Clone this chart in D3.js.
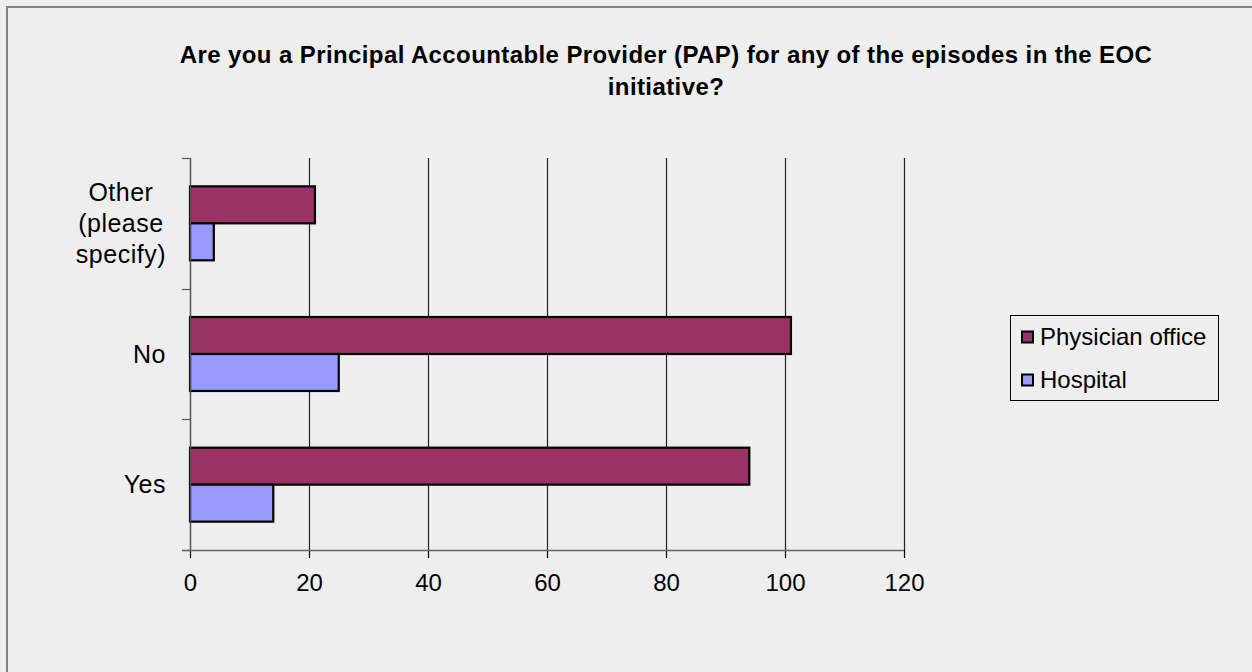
<!DOCTYPE html>
<html><head><meta charset="utf-8">
<script src="https://cdn.jsdelivr.net/npm/d3@7"></script>
<style>
html,body{margin:0;padding:0;background:#EEEEEE;}
svg{display:block;font-family:"Liberation Sans",Arial,sans-serif;}
</style></head>
<body>
<svg id="c" width="1252" height="672"></svg>
<script>
const categories = ["Yes", "No", "Other (please specify)"];
const categoryLines = [["Yes"], ["No"], ["Other", "(please", "specify)"]];
const seriesNames = ["Physician office", "Hospital"];
const physicianOffice = [94, 101, 21];
const hospital = [14, 25, 4];
const xTicks = [0, 20, 40, 60, 80, 100, 120];
const colors = ["#993366", "#9999FF"];
const titleLines = ["Are you a Principal Accountable Provider (PAP) for any of the episodes in the EOC", "initiative?"];

const svg = d3.select("#c");
svg.append("rect").attr("x",0).attr("y",0).attr("width",1252).attr("height",672).attr("fill","#EEEEEE");
// outer chart border (left/top visible)
svg.append("rect").attr("x",7).attr("y",7).attr("width",1260).attr("height",680)
  .attr("fill","none").attr("stroke","#808080").attr("stroke-width",2);

const L=190, R=904, T=158, B=550;
const x = d3.scaleLinear().domain([0,120]).range([L,R]);
const y = d3.scaleBand().domain(categories.slice().reverse()).range([T,B]).paddingInner(0.434).paddingOuter(0.217);
const ySub = d3.scaleBand().domain(seriesNames).range([0,y.bandwidth()]);

// title
const title = svg.append("text").attr("text-anchor","middle").attr("font-size",24).attr("font-weight","bold")
  .attr("letter-spacing","0.4").attr("fill","#000");
titleLines.forEach((t,i)=>title.append("tspan").attr("x",666).attr("y",63+i*32).text(t));

// gridlines
svg.append("g").selectAll("line").data(xTicks.slice(1)).join("line")
  .attr("x1",d=>x(d)+0.5).attr("x2",d=>x(d)+0.5).attr("y1",T).attr("y2",B)
  .attr("stroke","#222").attr("stroke-width",1.2);

// bars
const data = [physicianOffice, hospital];
const g = svg.append("g");
categories.forEach((c,ci)=>{
  seriesNames.forEach((s,si)=>{
    g.append("rect")
      .attr("x",x(0)).attr("y",y(c)+ySub(s))
      .attr("width",x(data[si][ci])-x(0)).attr("height",ySub.bandwidth())
      .attr("fill",colors[si]).attr("stroke","#000").attr("stroke-width",2.2);
  });
});

// y axis
const yAxisG = svg.append("g");
yAxisG.append("line").attr("x1",L+0.5).attr("x2",L+0.5).attr("y1",T).attr("y2",B).attr("stroke","#555").attr("stroke-width",1.5);
const catEdges = categories.map(c=>y(c)-y.step()*y.paddingOuter()).concat([B]);
yAxisG.selectAll("line.t").data(catEdges).join("line").attr("class","t")
  .attr("x1",L-8).attr("x2",L).attr("y1",d=>Math.round(d)+0.5).attr("y2",d=>Math.round(d)+0.5)
  .attr("stroke","#555").attr("stroke-width",1.2);

// x axis
const xAxis = d3.axisBottom(x).tickValues(xTicks).tickSize(8).tickSizeOuter(0);
const xg = svg.append("g").attr("transform",`translate(0,${B})`).call(xAxis);
xg.select(".domain").remove();
xg.append("line").attr("x1",L-8).attr("x2",R).attr("y1",0.5).attr("y2",0.5).attr("stroke","#666").attr("stroke-width",1.5);
xg.selectAll(".tick line").attr("stroke","#000").attr("stroke-width",1.2);
xg.selectAll(".tick text").attr("font-size",24).attr("font-family","Liberation Sans, Arial, sans-serif").attr("fill","#000").attr("dy","0.71em").attr("y",24);

// y category labels
categories.forEach((c,ci)=>{
  const lines = categoryLines[ci];
  const cy = y(c)+y.bandwidth()/2;
  const lh = 31;
  const tg = svg.append("g");
  const texts = lines.map((ln,i)=>tg.append("text").attr("font-size",25).attr("letter-spacing","0.5").attr("fill","#000")
      .attr("y",cy + (i-(lines.length-1)/2)*lh).attr("dy","0.35em").attr("text-anchor","middle").text(ln));
  const maxW = d3.max(texts,t=>t.node().getComputedTextLength());
  texts.forEach(t=>t.attr("x",166-maxW/2));
});

// legend
const lg = svg.append("g");
lg.append("rect").attr("x",1010.5).attr("y",315.5).attr("width",208).attr("height",85).attr("fill","#EEEEEE").attr("stroke","#000").attr("stroke-width",1);
seriesNames.forEach((s,i)=>{
  const cy = 337 + i*43;
  lg.append("rect").attr("x",1022).attr("y",cy-5.5).attr("width",11).attr("height",11).attr("fill",colors[i]).attr("stroke","#000").attr("stroke-width",2);
  lg.append("text").attr("x",1040).attr("y",cy).attr("dy","0.35em").attr("font-size",24).attr("fill","#000").text(s);
});
</script>
</body></html>
